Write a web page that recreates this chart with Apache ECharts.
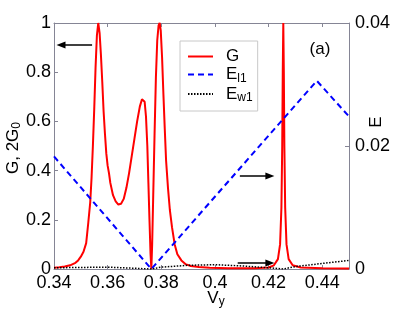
<!DOCTYPE html>
<html>
<head>
<meta charset="utf-8">
<script src="https://cdn.jsdelivr.net/npm/echarts@6/dist/echarts.min.js"></script>
<style>html,body{margin:0;padding:0;background:#fff}#c{width:415px;height:309px}</style>
</head>
<body>
<div id="c"></div>
<script>
// ---- data ----
const gX = [0.3400,0.3420,0.3440,0.3460,0.3480,0.3490,0.3500,0.3510,0.3520,0.3528,0.3535,0.3540,0.3545,0.3550,0.3555,0.3560,0.3565,0.3570,0.3575,0.3580,0.3585,0.3590,0.3595,0.3600,0.3605,0.3610,0.3620,0.3630,0.3640,0.3650,0.3660,0.3670,0.3680,0.3690,0.3700,0.3710,0.3720,0.3728,0.3733,0.3738,0.3743,0.3748,0.3752,0.3756,0.3760,0.3763,0.3766,0.3770,0.3775,0.3780,0.3785,0.3790,0.3794,0.3798,0.3803,0.3808,0.3813,0.3818,0.3825,0.3832,0.3840,0.3850,0.3860,0.3875,0.3890,0.3910,0.3940,0.3980,0.4050,0.4150,0.4200,0.4220,0.4235,0.4243,0.4248,0.4251,0.4253,0.4255,0.4257,0.4259,0.4262,0.4267,0.4275,0.4290,0.4320,0.4400,0.4500];
const gY = [0.005,0.007,0.010,0.015,0.025,0.035,0.050,0.070,0.105,0.19,0.27,0.37,0.50,0.65,0.82,0.95,1.00,0.96,0.87,0.76,0.64,0.55,0.47,0.42,0.39,0.35,0.30,0.275,0.262,0.265,0.285,0.33,0.39,0.46,0.53,0.60,0.66,0.69,0.695,0.68,0.62,0.50,0.35,0.20,0.06,0.00,0.10,0.30,0.55,0.78,0.93,0.99,1.00,0.97,0.86,0.71,0.57,0.44,0.33,0.24,0.17,0.10,0.06,0.035,0.02,0.012,0.008,0.005,0.003,0.003,0.006,0.015,0.04,0.10,0.25,0.50,0.80,1.00,0.80,0.50,0.25,0.10,0.04,0.015,0.006,0.003,0.002];
const elX = [0.340, 0.3763, 0.438, 0.450];
const elY = [0.0183, 0.0, 0.0306, 0.0248];
const ewX = [0.340, 0.360, 0.3763, 0.380, 0.390, 0.400, 0.410, 0.420, 0.4255, 0.430, 0.440, 0.450];
const ewY = [0.0002, 0.0003, 0.0, 0.0003, 0.0006, 0.0007, 0.0005, 0.0002, 0.0, 0.0004, 0.0009, 0.0014];
const seriesNames = ['G', 'E_l1', 'E_w1'];
const xTickStep = 0.02, leftTickStep = 0.2, rightTickStep = 0.02;

const zip = (a, b) => a.map((v, i) => [v, b[i]]);
const FONT = '"Liberation Sans", Arial, Helvetica, sans-serif';
const AX = '#858595';
const rich = {
  g: {width: 8},
  m: {fontSize: 17, fontFamily: FONT, color: '#000', lineHeight: 20},
  s: {fontSize: 12, fontFamily: FONT, color: '#000', verticalAlign: 'bottom', lineHeight: 13}
};
const legendText = {'G': '{g|}{m|G}', 'E_l1': '{g|}{m|E}{s|l1}', 'E_w1': '{g|}{m|E}{s|w1}'};

const axisCommon = {
  axisLine: {show: true, onZero: false, lineStyle: {color: AX, width: 1}},
  axisTick: {show: true, inside: true, length: 4, lineStyle: {color: AX}},
  splitLine: {show: false}
};
const lbl = (extra) => Object.assign({color: '#000', fontSize: 18, fontFamily: FONT}, extra);

const chart = echarts.init(document.getElementById('c'), null, {renderer: 'canvas'});
chart.setOption({
  animation: false,
  backgroundColor: '#fff',
  grid: {left: 54, right: 66, top: 23, bottom: 40},
  xAxis: [
    Object.assign({type: 'value', min: 0.34, max: 0.45, interval: xTickStep, position: 'bottom',
      axisLabel: lbl({margin: 5, showMaxLabel: false, formatter: v => String(+v.toFixed(2))})}, axisCommon),
    Object.assign({type: 'value', min: 0.34, max: 0.45, interval: xTickStep, position: 'top',
      axisLabel: {show: false}}, axisCommon)
  ],
  yAxis: [
    Object.assign({type: 'value', min: 0, max: 1, interval: leftTickStep, position: 'left',
      axisLabel: lbl({margin: 3, padding: [0, 0, 5, 0]})}, axisCommon),
    Object.assign({type: 'value', min: 0, max: 0.04, interval: rightTickStep, position: 'right',
      axisLabel: lbl({margin: 6, padding: [3, 0, 0, 0]})}, axisCommon)
  ],
  legend: {
    data: seriesNames, orient: 'vertical', left: 180, top: 41,
    itemWidth: 25, itemHeight: 12, itemGap: 1,
    backgroundColor: '#fff', borderColor: '#c8c8c8', borderWidth: 1,
    padding: [7, 5, 7, 7],
    itemStyle: {opacity: 0, color: 'transparent', borderWidth: 0},
    formatter: n => legendText[n],
    textStyle: {rich: rich}
  },
  series: [
    {name: 'G', type: 'line', xAxisIndex: 0, yAxisIndex: 0, data: zip(gX, gY), symbol: 'none',
      lineStyle: {color: '#ff0000', width: 2}, itemStyle: {color: '#ff0000'},
      markLine: {silent: true, symbol: ['none', 'triangle'], symbolSize: [7, 9], label: {show: false},
        lineStyle: {color: '#000', width: 1.5, type: 'solid'},
        data: [
          [{coord: [0.3542, 0.9106]}, {coord: [0.3426, 0.9106]}],
          [{coord: [0.4093, 0.378]}, {coord: [0.4205, 0.378]}],
          [{coord: [0.4085, 0.0244]}, {coord: [0.4205, 0.0244]}]
        ]}},
    {name: 'E_l1', type: 'line', xAxisIndex: 0, yAxisIndex: 1, data: zip(elX, elY), symbol: 'none',
      lineStyle: {color: '#0000ff', width: 2, type: [6, 4]}, itemStyle: {color: '#0000ff'}},
    {name: 'E_w1', type: 'line', xAxisIndex: 0, yAxisIndex: 1, data: zip(ewX, ewY), symbol: 'none',
      lineStyle: {color: '#000', width: 1.5, type: [1.5, 1.5]}, itemStyle: {color: '#000'}}
  ],
  graphic: [
    {type: 'text', x: 320, y: 49, style: {text: '(a)', fontSize: 17, fontFamily: FONT, fill: '#000', align: 'center', verticalAlign: 'middle'}},
    {type: 'text', x: 216, y: 298, style: {text: '{m|V}{s|y}', rich: rich, align: 'center', verticalAlign: 'middle'}},
    {type: 'text', x: 13, y: 148, rotation: Math.PI / 2, style: {text: '{m|G, 2G}{s|0}', rich: rich, align: 'center', verticalAlign: 'middle'}},
    {type: 'text', x: 376, y: 122, rotation: Math.PI / 2, style: {text: 'E', fontSize: 17, fontFamily: FONT, fill: '#000', align: 'center', verticalAlign: 'middle'}}
  ]
});
</script>
</body>
</html>
